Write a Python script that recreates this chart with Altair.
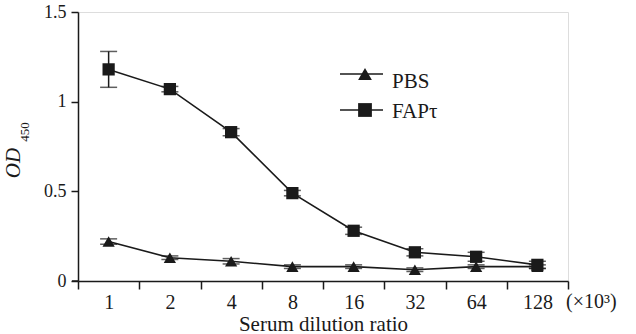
import altair as alt
import pandas as pd

# ---- data ----
dilution = ["1", "2", "4", "8", "16", "32", "64", "128"]
pbs = [0.22, 0.13, 0.11, 0.08, 0.08, 0.063, 0.08, 0.08]
pbs_err = [0.015, 0.01, 0.015, 0.01, 0.01, 0.01, 0.01, 0.01]
fap = [1.18, 1.07, 0.83, 0.49, 0.28, 0.16, 0.135, 0.09]
fap_err = [0.10, 0.015, 0.02, 0.015, 0.02, 0.02, 0.025, 0.02]
series_names = ["PBS", "FAPτ"]
series_shapes = ["triangle-up", "square"]
y_ticks = [0, 0.5, 1, 1.5]
x_title = "Serum dilution ratio"
x_unit = "(×10³)"
y_title = "OD"
y_sub = "450"

FONT = "'Liberation Serif', 'Times New Roman', Times, serif"
INK = "#1a1a1a"

rows = []
for name, vals, errs in [(series_names[0], pbs, pbs_err), (series_names[1], fap, fap_err)]:
    for i, (d, v, e) in enumerate(zip(dilution, vals, errs)):
        rows.append({"dil": d, "series": name, "od": v, "lo": v - e, "hi": v + e})
df = pd.DataFrame(rows)

x_enc = alt.X(
    "dil:N",
    sort=dilution,
    scale=alt.Scale(type="band", paddingInner=0, paddingOuter=0),
    axis=alt.Axis(
        title=x_title, tickBand="extent", labelAngle=0, labelFont=FONT,
        labelFontSize=20, labelColor=INK, titleFont=FONT, titleFontSize=21,
        titleFontWeight="normal", titleColor=INK, tickSize=8, tickColor=INK,
        domainColor=INK, tickWidth=1.5, domainWidth=1.5, labelPadding=3,
        titlePadding=1, grid=False,
    ),
)
y_scale = alt.Scale(domain=[0, 1.5], nice=False, zero=True)
y_enc = alt.Y(
    "od:Q", scale=y_scale,
    axis=alt.Axis(
        title=None, values=y_ticks, labelExpr="datum.value + ''", labelFont=FONT,
        labelFontSize=18, labelColor=INK, tickSize=7, tickColor=INK,
        domainColor=INK, tickWidth=1.5, domainWidth=1.5, labelPadding=5, grid=False,
    ),
)

base = alt.Chart(df)

lines = base.mark_line(color=INK, strokeWidth=1.6).encode(
    x=x_enc, y=y_enc, detail="series:N"
)
err = base.mark_rule(color=INK, strokeWidth=1.5).encode(
    x=alt.X("dil:N", sort=dilution), y=alt.Y("lo:Q", scale=y_scale), y2="hi:Q"
)
cap_lo = base.mark_tick(color=INK, thickness=1.5, size=17).encode(
    x=alt.X("dil:N", sort=dilution), y=alt.Y("lo:Q", scale=y_scale)
)
cap_hi = base.mark_tick(color=INK, thickness=1.5, size=17).encode(
    x=alt.X("dil:N", sort=dilution), y=alt.Y("hi:Q", scale=y_scale)
)
pts = base.mark_point(filled=True, opacity=1, color=INK, size=150).encode(
    x=alt.X("dil:N", sort=dilution),
    y=alt.Y("od:Q", scale=y_scale),
    shape=alt.Shape("series:N", scale=alt.Scale(domain=series_names, range=series_shapes), legend=None),
)

# small extension of the x axis line to the left of the y axis (as in the reference)
axis_ext = alt.Chart(pd.DataFrame({"t": [""]})).mark_rule(color=INK, strokeWidth=1.5).encode(
    x=alt.value(-6), x2=alt.value(0), y=alt.value(269)
)

# ---- manual legend ----
leg_rows = [(62, 70), (98, 100)]  # (marker row, text row) in plot pixels
leg_layers = []
for (name, shp), (ly, ty) in zip(zip(series_names, series_shapes), leg_rows):
    ldf = pd.DataFrame({"t": [name]})
    leg_layers.append(alt.Chart(ldf).mark_rule(color=INK, strokeWidth=1.6).encode(
        x=alt.value(262), x2=alt.value(305), y=alt.value(ly)))
    leg_layers.append(alt.Chart(ldf).mark_point(filled=True, opacity=1, color=INK, size=190, shape=shp).encode(
        x=alt.value(287), y=alt.value(ly)))
    leg_layers.append(alt.Chart(ldf).mark_text(align="left", baseline="middle", font=FONT, fontSize=21, color=INK).encode(
        x=alt.value(314), y=alt.value(ty), text="t:N"))

unit = alt.Chart(pd.DataFrame({"t": [x_unit]})).mark_text(
    align="left", baseline="middle", font=FONT, fontSize=20, color=INK
).encode(x=alt.value(488), y=alt.value(290), text="t:N")

ytitle = alt.Chart(pd.DataFrame({"t": [y_title]})).mark_text(
    angle=270, align="center", baseline="middle", font=FONT, fontSize=21, fontStyle="italic", color=INK
).encode(x=alt.value(-64), y=alt.value(151), text="t:N")
ysub = alt.Chart(pd.DataFrame({"t": [y_sub]})).mark_text(
    angle=270, align="center", baseline="middle", font=FONT, fontSize=13, color=INK
).encode(x=alt.value(-53), y=alt.value(120), text="t:N")

chart = alt.layer(
    lines, err, cap_lo, cap_hi, pts, axis_ext, *leg_layers, unit, ytitle, ysub
).properties(
    width=490, height=269,
    autosize=alt.AutoSizeParams(type="none"),
    padding={"left": 78, "top": 12, "right": 68, "bottom": 53},
).configure_view(stroke=None).configure(background="white")

chart.save("out.html", embed_options={"renderer": "svg", "actions": False})
